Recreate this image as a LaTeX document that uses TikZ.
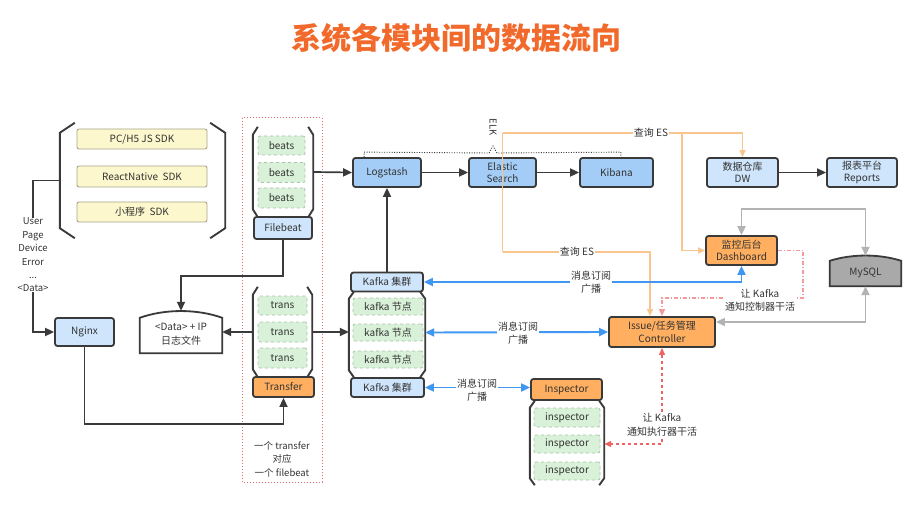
\documentclass[tikz,border=0pt]{standalone}
\usepackage{fontspec}
\setmainfont{Noto Sans CJK SC}
\usetikzlibrary{arrows.meta,calc,backgrounds}
\definecolor{bd}{HTML}{3A3A3A}
\definecolor{txt}{HTML}{333333}
\definecolor{lblue}{HTML}{CFE5FB}
\definecolor{mblue}{HTML}{A3CDF7}
\definecolor{orng}{HTML}{FFAF5F}
\definecolor{lgreen}{HTML}{D8F1D8}
\definecolor{gbd}{HTML}{A9C4A9}
\definecolor{yel}{HTML}{FCF7CC}
\definecolor{ybd}{HTML}{A8A690}
\definecolor{titlec}{HTML}{F26A2B}
\definecolor{bluec}{HTML}{3F97F2}
\definecolor{grayc}{HTML}{B3B3B3}
\definecolor{mysqlc}{HTML}{A9A9A9}
\definecolor{orgl}{HTML}{F7C58D}
\definecolor{redc}{HTML}{EE6464}
\definecolor{redl}{HTML}{F49A9A}
\definecolor{framec}{HTML}{E26A6A}
\newcommand\fsA{\fontsize{10}{12.5}\selectfont}
\newcommand\fsB{\fontsize{10}{13.5}\selectfont}
\begin{document}
\begin{tikzpicture}[x=1pt,y=-1pt,
  sz/.style 2 args={minimum width=#1, minimum height=#2},
  box/.style={draw=bd, line width=1.8pt, rounded corners=2.5pt, inner sep=0pt, align=center, text=txt, font=\fsA},
  lb/.style={box, fill=lblue},
  mb/.style={box, fill=mblue},
  ob/.style={box, fill=orng},
  gb/.style={draw=gbd, dashed, line width=0.8pt, fill=lgreen, rounded corners=2pt, inner sep=0pt, text=txt, font=\fsA},
  yb/.style={draw=ybd, line width=0.9pt, fill=yel, rounded corners=2pt, inner sep=0pt, text=txt, font=\fsA},
  brk/.style={draw=bd, line width=1.9pt},
  dk/.style={draw=bd, line width=1.7pt},
  tip/.style={-{Triangle[length=9pt,width=8pt]}},
  blu/.style={draw=bluec, line width=1.9pt, {Triangle[length=9pt,width=8pt]}-{Triangle[length=9pt,width=8pt]}},
  gry/.style={draw=grayc, line width=1.9pt, {Triangle[length=9pt,width=8pt]}-{Triangle[length=9pt,width=8pt]}},
  org/.style={draw=orgl, line width=1.3pt},
  orgtip/.style={-{Triangle[length=7pt,width=6pt]}},
  rd/.style={draw=redc, line width=1.2pt, dashed},
  rdl/.style={draw=redl, line width=1.2pt, dash pattern=on 4pt off 2pt on 1pt off 2pt},
  rtip/.style={{Triangle[length=7pt,width=6pt]}-{Triangle[length=7pt,width=6pt]}},
  lab/.style={fill=white, inner sep=1pt, align=center, text=txt, font=\fsB},
  plain/.style={inner sep=0pt, align=center, text=txt}
]
\useasboundingbox (0,0) rectangle (918,513);
\fill[white] (0,0) rectangle (918,513);

% title
\node[font=\fontsize{30}{34}\selectfont\bfseries, text=titlec] (title) at (456,38) {系统各模块间的数据流向};

% red dotted frame
\draw[framec, line width=1pt, dash pattern=on 1pt off 2pt] (242,118) rectangle (322,482);

% SDK group
\node[yb, sz={130}{20}] (pc) at (142,139) {PC/H5 JS SDK};
\node[yb, sz={130}{21}] (rn) at (142,176.5) {ReactNative\ \ SDK};
\node[yb, sz={130}{20}] (mini) at (142,212) {小程序\ \ SDK};
\node[sz={165}{115}, inner sep=0pt] (sdk) at (142.5,180.5) {};
\draw[brk] ($(sdk.north west)+(15,0)$) -- ($(sdk.north west)+(0,10)$) -- ($(sdk.south west)+(0,-10)$) -- ($(sdk.south west)+(15,0)$);
\draw[brk] ($(sdk.north east)+(-15,0)$) -- ($(sdk.north east)+(0,10)$) -- ($(sdk.south east)+(0,-10)$) -- ($(sdk.south east)+(-15,0)$);

\node[plain, font=\fontsize{9.5}{13.4}\selectfont] (user) at (33,255) {User\\Page\\Device\\Error\\...\\<Data>};

\node[lb, sz={59}{28}] (nginx) at (84.5,332) {Nginx};

% log file
\node[sz={82}{42}, inner sep=0pt] (lf) at (181,332) {};
\draw[draw=bd, line width=1.8pt, fill=white] (lf.south west) -- ($(lf.north west)+(0,7)$) .. controls ($(lf.north west)+(25,-2)$) and ($(lf.north east)+(-25,-2)$) .. ($(lf.north east)+(0,7)$) -- (lf.south east) -- cycle;
\node[plain, font=\fsB] at (181,334) {<Data> + IP\\日志文件};

% beats column
\node[gb, sz={47}{19}] (b1) at (281.5,145.5) {beats};
\node[gb, sz={47}{20}] (b2) at (281.5,172.5) {beats};
\node[gb, sz={47}{20}] (b3) at (281.5,198) {beats};
\node[sz={60}{90}, inner sep=0pt] (beatsC) at (283,172) {};
\draw[brk] ($(beatsC.north west)+(5,0)$) -- ($(beatsC.north west)+(0,8)$) -- ($(beatsC.south west)+(0,-8)$) -- ($(beatsC.south west)+(5,0)$);
\draw[brk] ($(beatsC.north east)+(-5,0)$) -- ($(beatsC.north east)+(0,8)$) -- ($(beatsC.south east)+(0,-8)$) -- ($(beatsC.south east)+(-5,0)$);
\node[lb, sz={58}{22}] (filebeat) at (283,228) {Filebeat};

% trans column
\node[gb, sz={49}{19}] (t1) at (282.5,305.5) {trans};
\node[gb, sz={49}{20}] (t2) at (282.5,332) {trans};
\node[gb, sz={49}{20}] (t3) at (282.5,358) {trans};
\node[sz={59}{90}, inner sep=0pt] (transC) at (282.5,332) {};
\draw[brk] ($(transC.north west)+(5,0)$) -- ($(transC.north west)+(0,8)$) -- ($(transC.south west)+(0,-8)$) -- ($(transC.south west)+(5,0)$);
\draw[brk] ($(transC.north east)+(-5,0)$) -- ($(transC.north east)+(0,8)$) -- ($(transC.south east)+(0,-8)$) -- ($(transC.south east)+(-5,0)$);
\node[ob, sz={61}{20}] (transfer) at (283.5,387) {Transfer};
\node[plain, font=\fontsize{9.5}{13.5}\selectfont] (note) at (282,459) {一个 transfer\\对应\\一个 filebeat};

% ELK
\node[mb, sz={68}{29}] (logstash) at (387,172.5) {Logstash};
\node[mb, sz={67}{29}] (es) at (502.5,172.5) {Elastic\\Search};
\node[mb, sz={73}{29}] (kibana) at (616.5,172.5) {Kibana};
\draw[draw=bd, line width=0.9pt, dash pattern=on 1pt off 1.5pt] ($(logstash.north west)+(12,0)$) -- ++(0,-5) -- (489,153) -- (493,146) -- (497,153) -- ($(kibana.north east)+(-33,-5)$) -- ++(0,5);
\node[plain, rotate=-90, font=\fontsize{9.5}{11}\selectfont] (elk) at (493,127) {ELK};

% DW etc
\node[lb, sz={71}{29}] (dw) at (742.5,172.5) {数据仓库\\DW};
\node[lb, sz={70}{29}] (reports) at (862,172.5) {报表平台\\Reports};
\node[ob, sz={71}{29}] (dash) at (741.5,250.5) {监控后台\\Dashboard};
\node[sz={71}{30}, inner sep=0pt] (mysql) at (865.5,271) {};
\draw[draw=bd, line width=1.8pt, fill=mysqlc] (mysql.south west) -- ($(mysql.north west)+(0,5)$) .. controls ($(mysql.north west)+(22,-2)$) and ($(mysql.north east)+(-22,-2)$) .. ($(mysql.north east)+(0,5)$) -- (mysql.south east) -- cycle;
\node[plain, font=\fsA] at (865.5,273) {MySQL};

% Kafka
\node[lb, sz={72}{19}] (kTop) at (387,282) {Kafka 集群};
\node[gb, sz={70}{17}] (k1) at (388,306.5) {kafka 节点};
\node[gb, sz={70}{17}] (k2) at (388,332.5) {kafka 节点};
\node[gb, sz={70}{17}] (k3) at (388,359.5) {kafka 节点};
\node[sz={76}{85}, inner sep=0pt] (kafkaC) at (387,334.5) {};
\draw[brk] ($(kafkaC.north west)+(5,0)$) -- ($(kafkaC.north west)+(0,7)$) -- ($(kafkaC.south west)+(0,-7)$) -- ($(kafkaC.south west)+(5,0)$);
\draw[brk] ($(kafkaC.north east)+(-5,0)$) -- ($(kafkaC.north east)+(0,7)$) -- ($(kafkaC.south east)+(0,-7)$) -- ($(kafkaC.south east)+(-5,0)$);
\node[lb, sz={73}{19}] (kBot) at (387.5,387.5) {Kafka 集群};

% controller & inspector
\node[ob, sz={106}{30}] (ctrl) at (662,332) {Issue/任务管理\\Controller};
\node[ob, sz={71}{21}] (insp) at (566.5,389.5) {Inspector};
\node[gb, sz={66}{19}] (i1) at (567,417.5) {inspector};
\node[gb, sz={66}{18}] (i2) at (567,444) {inspector};
\node[gb, sz={66}{18}] (i3) at (567,471) {inspector};
\node[sz={74}{84}, inner sep=0pt] (inspC) at (567,443) {};
\draw[brk] ($(inspC.north west)+(5,0)$) -- ($(inspC.north west)+(0,7)$) -- ($(inspC.south west)+(0,-7)$) -- ($(inspC.south west)+(5,0)$);
\draw[brk] ($(inspC.north east)+(-5,0)$) -- ($(inspC.north east)+(0,7)$) -- ($(inspC.south east)+(0,-7)$) -- ($(inspC.south east)+(-5,0)$);

% dark connectors
\draw[dk] (sdk.west) -| (user.north);
\draw[dk, tip] (user.south) |- (nginx.west);
\draw[dk, tip] (nginx.south) -- ++(0,77) -| (transfer.south);
\draw[dk, tip] (filebeat.south) -- ++(0,36) -| (lf.north);
\draw[dk, tip] (transC.west) -- (lf.east);
\draw[dk, tip] (beatsC.east) -- (logstash.west);
\draw[dk, tip] (transC.east) -- (transC.east -| kafkaC.west);
\draw[dk, tip] (kTop.north) -- (logstash.south);
\draw[dk, tip] (logstash.east) -- (es.west);
\draw[dk, tip] (es.east) -- (kibana.west);
\draw[dk, tip] (dw.east) -- (reports.west);

% orange query lines
\coordinate (yTop) at (0,133);
\coordinate (yMid) at (0,252);
\coordinate (xSplit) at (682,0);
\coordinate (xCtrl) at (650,0);
\draw[org] (es.north |- yTop) -- (es.south |- yMid);
\draw[org, orgtip] (es.north |- yTop) -| (dw.north);
\draw[org, orgtip] (xSplit |- yTop) |- (dash.west);
\draw[org, orgtip] (es.south |- yMid) -| (xCtrl |- ctrl.north);
\node[lab] at (651,133) {查询 ES};
\node[lab] at (577,252) {查询 ES};

% blue
\draw[blu] (kTop.east) -| (dash.south);
\node[lab] at (591,282) {消息订阅\\广播};
\draw[blu] (k2.east -| kafkaC.east) -- (ctrl.west);
\node[lab] at (518,333) {消息订阅\\广播};
\draw[blu] (kBot.east) -- (kBot.east -| insp.west);
\node[lab] at (477,390) {消息订阅\\广播};

% red
\draw[rd, rtip] (ctrl.south) |- (i2.east -| inspC.east);
\node[lab] at (662,425) {让 Kafka\\通知执行器干活};
\coordinate (xRed) at (803,0);
\coordinate (yRed) at (0,298);
\draw[rdl, -{Triangle[length=7pt,width=6pt]}] (dash.east) -| (xRed |- yRed) -| (ctrl.north);
\node[lab] at (760,300) {让 Kafka\\通知控制器干活};

% gray
\draw[gry] (dash.north) -- ++(0,-26) -| (mysql.north);
\draw[gry] ($(ctrl.east)+(0,-10)$) -| (mysql.south);
\end{tikzpicture}
\end{document}
